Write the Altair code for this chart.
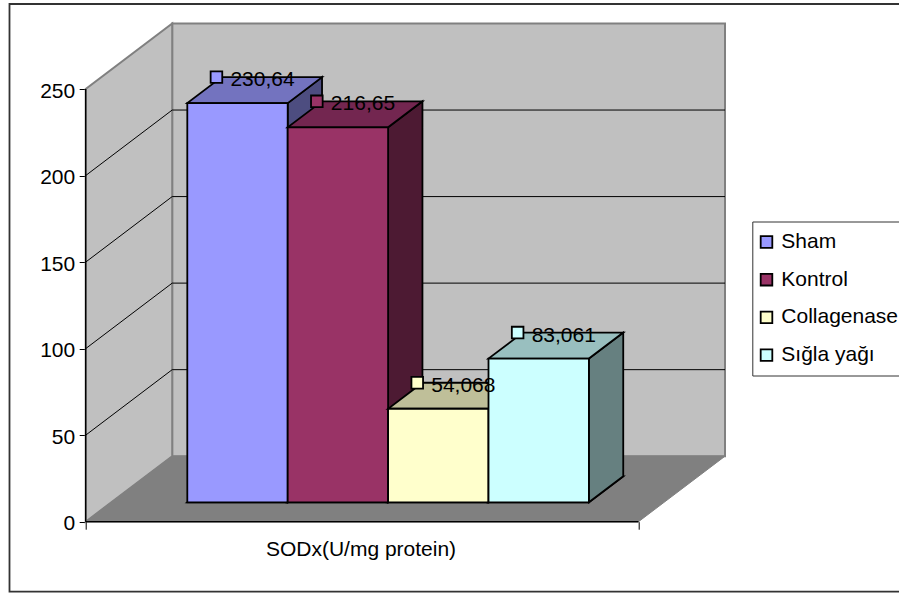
import altair as alt
import pandas as pd

# Series shown in the chart
series = ["Sham", "Kontrol", "Collagenase", "Sığla yağı"]
values = [230.64, 216.65, 54.068, 83.061]
value_labels = ["230,64", "216,65", "54,068", "83,061"]
front_colors = ["#9999FF", "#993366", "#FFFFCC", "#CCFFFF"]
top_colors = ["#7373BF", "#732650", "#BFBF99", "#99BFBF"]
side_colors = ["#4D4D80", "#4D1A33", "#808066", "#668080"]
y_ticks = [0, 50, 100, 150, 200, 250]
grid_levels = [50, 100, 150, 200]
x_title = "SODx(U/mg protein)"

FONT = "Liberation Sans"

# Canvas layout in pixels
LEFT, TOP = 85.7, 24.0
PLOT_W, PLOT_H = 639.3, 497.7
PX_PER_X = 552.8      # pixels per unit of the category axis
PX_PER_V = 1.7308     # pixels per unit of SOD

# Oblique projection: depth 1 moves a point to the back of the box
DEPTH_X = 86.5 / PX_PER_X
DEPTH_V = 65.5 / PX_PER_V
BAR_D0, BAR_D1 = 0.296, 0.693
BAR_START = (187.3 - LEFT - BAR_D0 * 86.5) / PX_PER_X
BAR_W = 100.4 / PX_PER_X

x_scale = alt.Scale(domain=[0, PLOT_W / PX_PER_X], nice=False, zero=False)
y_scale = alt.Scale(domain=[0, PLOT_H / PX_PER_V], nice=False, zero=False)
color_scale = alt.Scale(domain=series, range=front_colors)

x_axis = alt.Axis(
    values=[0, 1], labels=False, domain=False, grid=False,
    tickSize=7.5, tickColor="black", tickWidth=1,
    title=x_title, titleFont=FONT, titleFontSize=21,
    titleFontWeight="normal", titleColor="black",
    titleX=274.8, titleY=34, titleAlign="center", titleBaseline="alphabetic",
)
y_axis = alt.Axis(
    values=y_ticks, domain=False, grid=False, title=None,
    tickSize=6.5, tickColor="black", tickWidth=1,
    labelFont=FONT, labelFontSize=21, labelColor="black",
    labelPadding=4.5, labelOffset=2, labelOverlap=False, labelFlush=False,
)
x_enc = alt.X("x:Q", scale=x_scale, axis=x_axis)
y_enc = alt.Y("v:Q", scale=y_scale, axis=y_axis)


def pt(x, v, d=0.0):
    """Project a point of the box (category x, value v, depth d) to the plane."""
    return (x + d * DEPTH_X, v + d * DEPTH_V)


def shape(points, closed=True, fill=None, stroke="black", width=1.8):
    frame = pd.DataFrame(points, columns=["x", "v"])
    frame["k"] = range(len(frame))
    props = dict(stroke=stroke, strokeWidth=width, strokeJoin="miter")
    if closed:
        props["interpolate"] = "linear-closed"
    if fill:
        props["fill"] = fill
    return alt.Chart(frame).mark_line(**props).encode(x=x_enc, y=y_enc, order="k:Q")


layers = []

# Outer chart frame, open past the right edge of the canvas
layers.append(
    alt.Chart(pd.DataFrame({"a": [0]})).mark_rect(
        fill="transparent", stroke="#333333", strokeWidth=1.8
    ).encode(
        x=alt.value(9.5 - LEFT), x2=alt.value(930),
        y=alt.value(4 - TOP), y2=alt.value(591.7 - TOP),
    )
)

top_value = y_ticks[-1]

# Walls and floor of the box
layers.append(shape([pt(0, 0, 1), pt(1, 0, 1), pt(1, top_value, 1), pt(0, top_value, 1)],
                    fill="#C0C0C0", stroke="#808080", width=2))
layers.append(shape([pt(0, 0), pt(0, 0, 1), pt(0, top_value, 1), pt(0, top_value)],
                    fill="#C0C0C0", stroke="#808080", width=2))
layers.append(shape([pt(0, 0), pt(1, 0), pt(1, 0, 1), pt(0, 0, 1)],
                    fill="#808080", stroke="#808080", width=1))

# Grid lines run across the side wall and along the back wall
for level in grid_levels:
    layers.append(shape([pt(0, level), pt(0, level, 1), pt(1, level, 1)],
                        closed=False, width=1))

# Front edge of the floor and the value axis line
layers.append(shape([pt(0, 0), pt(1, 0)], closed=False, width=1.4))
layers.append(shape([pt(0, 0), pt(0, top_value)], closed=False, width=1.4))

# Bars, left to right so that each one covers its neighbour's side face
for i, value in enumerate(values):
    x0 = BAR_START + i * BAR_W
    x1 = x0 + BAR_W
    layers.append(shape([pt(x0, 0, BAR_D0), pt(x1, 0, BAR_D0), pt(x1, 0, BAR_D1), pt(x0, 0, BAR_D1)],
                        fill=side_colors[i]))
    layers.append(shape([pt(x1, 0, BAR_D0), pt(x1, 0, BAR_D1), pt(x1, value, BAR_D1), pt(x1, value, BAR_D0)],
                        fill=side_colors[i]))
    layers.append(shape([pt(x0, value, BAR_D0), pt(x1, value, BAR_D0), pt(x1, value, BAR_D1), pt(x0, value, BAR_D1)],
                        fill=top_colors[i]))
    layers.append(shape([pt(x0, 0, BAR_D0), pt(x1, 0, BAR_D0), pt(x1, value, BAR_D0), pt(x0, value, BAR_D0)],
                        fill=front_colors[i]))

# Value labels with their colour keys, anchored at the back edge of each bar top
KEY_SHIFT = 5.2 / PX_PER_X
anchors = [pt(BAR_START + i * BAR_W - KEY_SHIFT, v, BAR_D1) for i, v in enumerate(values)]
labels = pd.DataFrame({
    "series": series,
    "text": value_labels,
    "x": [a[0] for a in anchors],
    "v": [a[1] for a in anchors],
})
layers.append(
    alt.Chart(labels).mark_text(
        align="left", baseline="alphabetic", dx=14, dy=9,
        font=FONT, fontSize=21, color="black",
    ).encode(x=x_enc, y=y_enc, text="text:N")
)
layers.append(
    alt.Chart(labels).mark_square(
        size=135, opacity=1, filled=True, stroke="black", strokeWidth=1.8
    ).encode(
        x=x_enc,
        y=y_enc,
        color=alt.Color(
            "series:N", scale=color_scale, sort=series,
            legend=alt.Legend(
                title=None, orient="none", legendX=752.3 - LEFT, legendY=221.5 - TOP,
                symbolType="square", symbolSize=135, symbolStrokeColor="black",
                symbolStrokeWidth=1.8, symbolOpacity=1, symbolOffset=-6.3,
                labelFont=FONT, labelFontSize=21, labelColor="black",
                labelOffset=4.3, labelLimit=200,
                rowPadding=15.7, padding=10, strokeColor="#333333", fillColor="white",
            ),
        ),
    )
)

chart = alt.layer(*layers).properties(
    width=PLOT_W,
    height=PLOT_H,
    padding={"left": LEFT, "top": TOP, "right": 899 - LEFT - PLOT_W, "bottom": 595 - TOP - PLOT_H},
    autosize=alt.AutoSizeParams(type="none"),
    background="white",
).configure_view(stroke=None)

chart.save("out.html", embed_options={"renderer": "svg", "actions": False})
